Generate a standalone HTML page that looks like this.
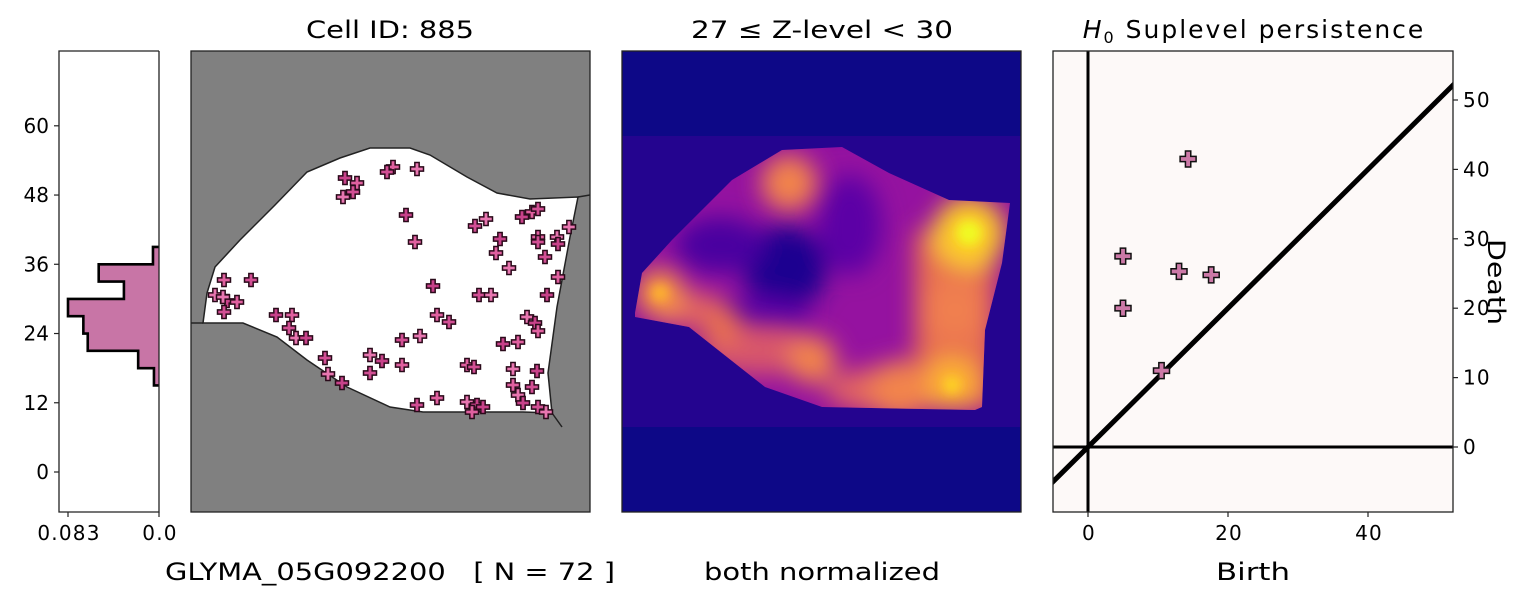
<!DOCTYPE html>
<html><head><meta charset="utf-8">
<style>
html,body{margin:0;padding:0;background:#fff;}
svg{display:block;font-family:"DejaVu Sans","Liberation Sans",sans-serif;}
</style></head>
<body>
<svg id="fig" width="1520" height="603" viewBox="0 0 1520 603" xmlns="http://www.w3.org/2000/svg">
<defs>
<clipPath id="cellclip"><rect x="191" y="51" width="399" height="461"/></clipPath>
<clipPath id="densclip"><path id="densPath" d="M635,313 L642,273 L672,240 L732,180 L782,150 L842,147 L889,173 L949,200 L1010,203 L1002,263 L985,330 L982,407 L975,410 L822,407 L765,387 L689,327 L635,317 Z"/></clipPath>
<clipPath id="persclip"><rect x="1053" y="51" width="400" height="461"/></clipPath>
<filter id="blur" x="-50%" y="-50%" width="200%" height="200%"><feGaussianBlur stdDeviation="12"/></filter>
<filter id="blur2" x="-50%" y="-50%" width="200%" height="200%"><feGaussianBlur stdDeviation="5"/></filter>
</defs>

<!-- titles -->
<text x="390" y="38" font-size="24" text-anchor="middle" textLength="168" lengthAdjust="spacingAndGlyphs">Cell ID: 885</text>
<text x="822" y="38" font-size="24" text-anchor="middle" textLength="262" lengthAdjust="spacingAndGlyphs">27 ≤  Z-level  &lt; 30</text>
<text x="1254" y="38" font-size="25" letter-spacing="2" text-anchor="middle"><tspan font-style="italic">H</tspan><tspan font-size="16" dy="5">0</tspan><tspan dy="-5"> Suplevel persistence</tspan></text>

<!-- bottom labels -->
<text x="390" y="580" font-size="24" text-anchor="middle" textLength="450" lengthAdjust="spacingAndGlyphs" xml:space="preserve">GLYMA_05G092200   [ N = 72 ]</text>
<text x="822" y="580" font-size="24" text-anchor="middle" textLength="236" lengthAdjust="spacingAndGlyphs">both normalized</text>
<text x="1253" y="580" font-size="24" text-anchor="middle" textLength="74" lengthAdjust="spacingAndGlyphs">Birth</text>
<text x="1488" y="282" font-size="24" text-anchor="middle" transform="rotate(90 1488 282)" textLength="86" lengthAdjust="spacingAndGlyphs">Death</text>

<g id="hist"></g>
<g id="cell"></g>
<g id="dens"></g>
<g id="pers"></g>
</svg>

<script>
// ---------- data ----------
const histEdges = [15, 18, 21, 24, 27, 30, 33, 36, 39];
const histDensity = [0.0046, 0.019, 0.065, 0.069, 0.083, 0.032, 0.055, 0.0055];
const histTicks = [0, 12, 24, 36, 48, 60];
const histXTicks = [0.083, 0.0];
const histXTickLabels = ["0.083", "0.0"];

const cellBoundary = [[215,267],[240,240],[275,205],[307,172],[340,158],[370,148],[410,148],[430,155],[467,177],[497,193],[530,199],[578,197],[570,237],[557,307],[548,373],[552,413],[523,412],[423,412],[390,407],[347,387],[307,360],[277,337],[243,323],[203,323],[207,293]];
const spotX = [393,387,417,345,357,353,343,406,415,475,486,522,532,538,569,500,538,538,557,558,496,545,509,433,558,479,491,547,224,251,215,227,237,224,223,276,292,289,296,306,437,449,527,535,538,402,420,503,518,325,370,382,402,370,328,342,467,474,513,537,513,532,518,523,437,417,467,477,472,538,546,483];
const spotY = [167,172,169,178,183,192,197,215,242,226,219,217,212,209,227,239,237,242,237,244,253,257,268,286,277,295,295,295,280,280,295,301,302,312,297,315,315,328,338,338,315,322,317,323,331,340,336,344,342,358,355,361,365,373,374,383,365,367,369,371,385,387,395,403,398,405,402,405,412,407,412,407];

const blobX = [789, 969, 660, 722, 812, 952, 955, 900];
const blobY = [183, 233, 293, 327, 360, 383, 310, 390];
const blobR = [28, 36, 24, 20, 24, 26, 30, 30];
const blobC = ["#f2844b","#fccd25","#f89540","#e8704f","#f2844b","#fdb32f","#f07f4f","#f2844b"];

const births = [5, 5, 13, 17.6, 14.3, 10.5];
const deaths = [27.5, 20, 25.3, 24.8, 41.5, 11];
const persXTicks = [0, 20, 40];
const persYTicks = [0, 10, 20, 30, 40, 50];

// ---------- helpers ----------
const NS = "http://www.w3.org/2000/svg";
function mk(tag, attrs, parent){const e=document.createElementNS(NS,tag);for(const k in attrs)e.setAttribute(k,attrs[k]);parent.appendChild(e);return e;}
function plus(cx, cy, s, fill, stroke, parent){
  const a=s/2, b=s/6;
  const d=`M${cx-b},${cy-a}H${cx+b}V${cy-b}H${cx+a}V${cy+b}H${cx+b}V${cy+a}H${cx-b}V${cy+b}H${cx-a}V${cy-b}H${cx-b}Z`;
  return mk("path",{d:d,fill:fill,stroke:stroke,"stroke-width":1.5},parent);
}

// ---------- histogram ----------
(function(){
  const g=document.getElementById("hist");
  const L=59,R=159,T=51,B=512;
  const y=v=>472-v*5.77;
  const x=d=>159-d/0.083*91;
  mk("rect",{x:L,y:T,width:R-L,height:B-T,fill:"#fff"},g);
  let d=`M${R},${y(histEdges[0])}`;
  for(let i=0;i<histDensity.length;i++){
    d+=`H${x(histDensity[i])}V${y(histEdges[i+1])}`;
  }
  d+=`H${R}`;
  const fillP=mk("path",{d:d+"Z",fill:"#c875a6",stroke:"none"},g);
  
  
  const line=mk("path",{d:d,fill:"none",stroke:"#000","stroke-width":2.6},g);
  
  
  mk("path",{d:`M${R},${T}V${B}H${L}V${T}H${R}`,fill:"none",stroke:"#222","stroke-width":1.3},g);
  histTicks.forEach(v=>{
    mk("line",{x1:L-5,x2:L,y1:y(v),y2:y(v),stroke:"#222","stroke-width":1.2},g);
    const t=mk("text",{x:L-10,y:y(v)+7,"font-size":20,"text-anchor":"end"},g);t.textContent=v;
    
    
  });
  histXTicks.forEach((v,i)=>{
    mk("line",{x1:x(v),x2:x(v),y1:B,y2:B+5,stroke:"#222","stroke-width":1.2},g);
    const t=mk("text",{x:x(v)+1,y:B+28,"font-size":20,"letter-spacing":1.2,"text-anchor":"middle"},g);t.textContent=histXTickLabels[i];
    
    
  });
})();

// ---------- cell panel ----------
(function(){
  const g=document.getElementById("cell");
  mk("rect",{x:191,y:51,width:399,height:461,fill:"#808080"},g);
  const cg=mk("g",{"clip-path":"url(#cellclip)"},g);
  const pts=cellBoundary.map(p=>p.join(",")).join(" ");
  const poly=mk("polygon",{points:pts,fill:"#fff",stroke:"#222","stroke-width":1.5},cg);
  
  
  mk("polyline",{points:"191,323 203,323",fill:"none",stroke:"#222","stroke-width":1.5},cg);
  mk("polyline",{points:"578,197 590,195",fill:"none",stroke:"#222","stroke-width":1.5},cg);
  mk("polyline",{points:"552,413 562,427",fill:"none",stroke:"#222","stroke-width":1.5},cg);
  const cols=["#e0609f","#d24f94","#e876b0","#c8428a"];
  for(let i=0;i<spotX.length;i++){
    const p=plus(spotX[i],spotY[i],13,cols[i%4],"#2a0a1a",cg);
    
    
  }
  mk("rect",{x:191,y:51,width:399,height:461,fill:"none",stroke:"#222","stroke-width":1.3},g);
})();

// ---------- density panel ----------
(function(){
  const g=document.getElementById("dens");
  mk("rect",{x:622,y:51,width:399,height:461,fill:"#0d0887"},g);
  mk("rect",{x:622,y:136,width:399,height:291,fill:"#24048f"},g);
  const cg=mk("g",{"clip-path":"url(#densclip)"},g);
  mk("rect",{x:622,y:136,width:399,height:291,fill:"#9512a0"},cg);
  mk("rect",{x:622,y:136,width:399,height:291,fill:"none",stroke:"#7a03a8","stroke-width":14,filter:"url(#blur2)"},cg);
  const hole=mk("g",{filter:"url(#blur)"},cg);
  mk("ellipse",{cx:785,cy:268,rx:42,ry:42,fill:"#1c0690"},hole);
  mk("ellipse",{cx:720,cy:245,rx:45,ry:28,fill:"#4a02a0"},hole);
  mk("ellipse",{cx:850,cy:225,rx:32,ry:50,fill:"#5c01a6"},hole);
  mk("ellipse",{cx:760,cy:315,rx:50,ry:18,fill:"#5c01a6"},hole);
  const hot=mk("g",{filter:"url(#blur)"},cg);
  mk("rect",{x:915,y:230,width:80,height:180,fill:"#e8704f"},hot);
  mk("ellipse",{cx:760,cy:350,rx:60,ry:25,fill:"#d8576b"},hot);
  mk("ellipse",{cx:880,cy:390,rx:55,ry:22,fill:"#e16462"},hot);
  mk("ellipse",{cx:690,cy:310,rx:40,ry:18,fill:"#e16462"},hot);
  for(let i=0;i<blobX.length;i++){
    const c=mk("circle",{cx:blobX[i],cy:blobY[i],r:blobR[i],fill:blobC[i]},hot);
    
    
  }
  const core=mk("g",{filter:"url(#blur2)"},cg);
  mk("circle",{cx:969,cy:233,r:12,fill:"#f0f921"},core);
  mk("circle",{cx:952,cy:385,r:8,fill:"#fcd225"},core);
  mk("circle",{cx:660,cy:293,r:8,fill:"#fdb32f"},core);
  mk("rect",{x:622,y:51,width:399,height:461,fill:"none",stroke:"#222","stroke-width":1.3},g);
})();

// ---------- persistence panel ----------
(function(){
  const g=document.getElementById("pers");
  const L=1053,R=1453,T=51,B=512;
  const x=v=>1088+v*7;
  const y=v=>447-v*6.94;
  mk("rect",{x:L,y:T,width:R-L,height:B-T,fill:"#fdf9f8"},g);
  const cg=mk("g",{"clip-path":"url(#persclip)"},g);
  const diag=mk("line",{x1:x(-10),y1:y(-10),x2:x(60),y2:y(60),stroke:"#000","stroke-width":5},cg);
  
  
  mk("line",{x1:x(0),y1:T,x2:x(0),y2:B,stroke:"#000","stroke-width":3},cg);
  mk("line",{x1:L,y1:y(0),x2:R,y2:y(0),stroke:"#000","stroke-width":3},cg);
  for(let i=0;i<births.length;i++){
    const p=plus(x(births[i]),y(deaths[i]),16,"#cc79a7","#111",cg);
    
    
  }
  mk("rect",{x:L,y:T,width:R-L,height:B-T,fill:"none",stroke:"#222","stroke-width":1.3},g);
  persXTicks.forEach(v=>{
    mk("line",{x1:x(v),x2:x(v),y1:B,y2:B+5,stroke:"#222","stroke-width":1.2},g);
    const t=mk("text",{x:x(v)+1,y:B+28,"font-size":20,"letter-spacing":1.2,"text-anchor":"middle"},g);t.textContent=v;
    
    
  });
  persYTicks.forEach(v=>{
    mk("line",{x1:R,x2:R+5,y1:y(v),y2:y(v),stroke:"#222","stroke-width":1.2},g);
    const t=mk("text",{x:R+10,y:y(v)+7,"font-size":20,"letter-spacing":1.2,"text-anchor":"start"},g);t.textContent=v;
    
    
  });
})();
</script>
</body></html>
